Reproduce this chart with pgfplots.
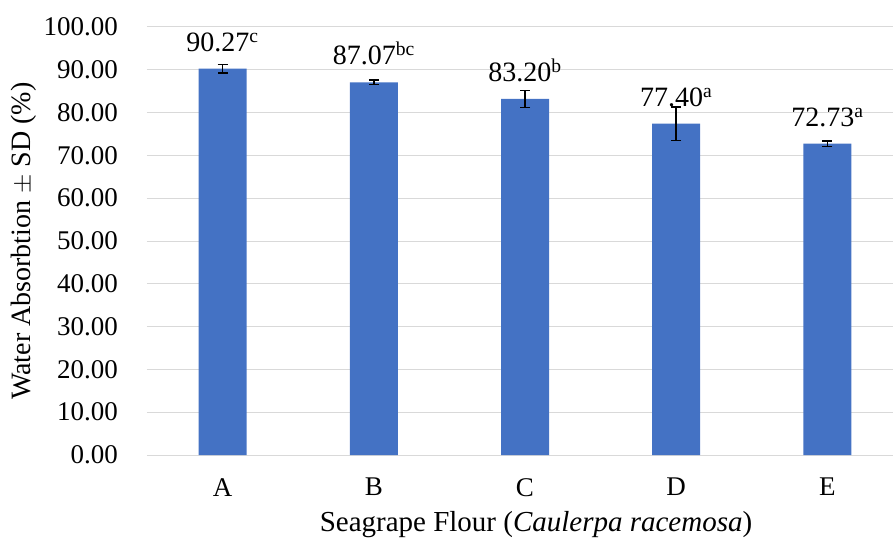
\documentclass[border=0pt]{standalone}
\usepackage{pgfplots}
\pgfplotsset{compat=1.18}
\usepackage{fontspec}
\setmainfont{Liberation Serif}
\definecolor{barblue}{HTML}{4472C4}
\definecolor{gridgray}{HTML}{D9D9D9}
\begin{document}
\fontsize{27}{31}\selectfont
\begin{tikzpicture}
\begin{axis}[
  scale only axis,
  width=756pt, height=428pt,
  xmin=-0.5, xmax=4.5,
  ymin=0, ymax=100,
  ytick={0,10,...,100},
  xtick={0,1,2,3,4},
  xticklabels={A,B,C,D,E},
  ymajorgrids,
  grid style={gridgray, line width=1pt},
  axis line style={draw=none},
  major tick length=0pt,
  /pgf/number format/assume math mode=true,
  yticklabel style={/pgf/number format/fixed, /pgf/number format/fixed zerofill, /pgf/number format/precision=2, xshift=-20pt},
  ticklabel style={font=\fontsize{27}{31}\selectfont},
  xticklabel style={yshift=-14pt},
  ylabel={Water Absorbtion $\pm$ SD (\%)},
  ylabel style={at={(axis description cs:0,0.5)}, anchor=center, yshift=123pt, font=\fontsize{28}{32}\selectfont},
  xlabel={Seagrape Flour (\textit{Caulerpa racemosa})},
  xlabel style={at={(axis description cs:0.5,0)}, anchor=center, yshift=-70pt, xshift=11pt, font=\fontsize{29}{33}\selectfont},
]
\addplot[ybar, bar width=48pt, fill=barblue, draw=none,
  point meta=explicit symbolic,
  nodes near coords,
  every node near coord/.append style={font=\fontsize{28}{32}\selectfont, black, anchor=south, yshift=8pt},
  error bars/.cd, y dir=both, y explicit,
  error bar style={black, line width=1.5pt},
  error mark options={rotate=90, mark size=5pt, line width=1.5pt, black},
] table[x=x, y=y, y error=e, meta=lab] {
x y e lab
0 90.27 1.00 90.27\textsuperscript{c}
1 87.07 0.55 87.07\textsuperscript{bc}
2 83.20 2.00 83.20\textsuperscript{b}
3 77.40 3.90 77.40\textsuperscript{a}
4 72.73 0.66 72.73\textsuperscript{a}
};
\end{axis}
\pgfresetboundingbox
\path[use as bounding box] ([xshift=-147pt,yshift=-86pt]current axis.south west) rectangle ([xshift=-10pt,yshift=27pt]current axis.north east);
\end{tikzpicture}
\end{document}
